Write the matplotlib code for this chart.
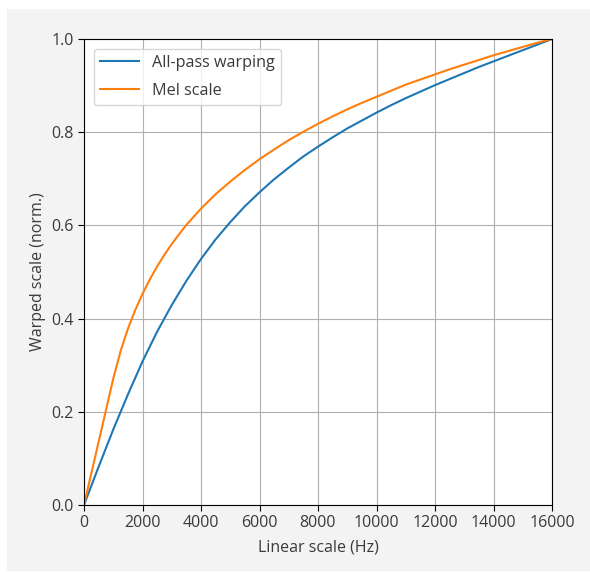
import matplotlib
matplotlib.use("Agg")
import matplotlib.pyplot as plt
from matplotlib.patches import Rectangle

# frequency grid (Hz) and the two normalised warped scales
freq_ap = [0, 500, 1000, 1500, 2000, 2500, 3000, 3500, 4000, 4500, 5000,
           5500, 6000, 6500, 7000, 7500, 8000, 8500, 9000, 9500, 10000,
           10500, 11000, 11500, 12000, 12500, 13000, 13500, 14000, 14500,
           15000, 15500, 16000]
allpass = [0.000, 0.082, 0.162, 0.237, 0.308, 0.372, 0.429, 0.481, 0.528,
           0.570, 0.607, 0.641, 0.671, 0.699, 0.724, 0.748, 0.769, 0.789,
           0.808, 0.825, 0.842, 0.858, 0.873, 0.887, 0.901, 0.914, 0.927,
           0.940, 0.952, 0.964, 0.976, 0.988, 1.000]

freq_mel = [0, 1000, 1250, 1500, 1750, 2000, 2250, 2500, 2750, 3000, 3250,
            3500, 4000, 4500, 5000, 5500, 6000, 6500, 7000, 7500, 8000,
            8500, 9000, 9500, 10000, 10500, 11000, 11500, 12000, 12500,
            13000, 13500, 14000, 14500, 15000, 15500, 16000]
mel = [0.000, 0.271, 0.330, 0.378, 0.418, 0.453, 0.484, 0.512, 0.537,
       0.560, 0.581, 0.601, 0.636, 0.667, 0.694, 0.719, 0.742, 0.763,
       0.783, 0.801, 0.818, 0.834, 0.849, 0.863, 0.876, 0.889, 0.902,
       0.913, 0.924, 0.935, 0.945, 0.955, 0.965, 0.974, 0.983, 0.992, 1.000]

xticks = list(range(0, 16001, 2000))
yticks = [0.0, 0.2, 0.4, 0.6, 0.8, 1.0]

txt = "#3a3a3a"
plt.rcParams['font.family'] = ['Open Sans', 'DejaVu Sans']
plt.rcParams['font.size'] = 11.5

fig = plt.figure(figsize=(5.9, 5.72), dpi=100)
fig.patch.set_facecolor("white")
fig.patches.append(Rectangle((7 / 590, 1 / 572), 1 - 7 / 590, 562 / 572,
                             transform=fig.transFigure, facecolor="#f3f3f3",
                             edgecolor="none", zorder=-10))

ax = fig.add_axes([84 / 590, 67 / 572, 468 / 590, 466 / 572])
ax.set_facecolor("white")
ax.plot(freq_ap, allpass, color="#1f77b4", lw=1.5, label="All-pass warping")
ax.plot(freq_mel, mel, color="#ff7f0e", lw=1.5, label="Mel scale")

ax.set_xlim(0, 16000)
ax.set_ylim(0, 1)
ax.set_xticks(xticks)
ax.set_yticks(yticks)
ax.grid(True, color="#b0b0b0", lw=0.8)
ax.tick_params(labelcolor=txt, length=4)
ax.set_xlabel("Linear scale (Hz)", color=txt, labelpad=6)
ax.set_ylabel("Warped scale (norm.)", color=txt, labelpad=4)
leg = ax.legend(loc="upper left", fontsize=11.6, handlelength=2.4,
                labelspacing=0.72, borderaxespad=0.6)
for t in leg.get_texts():
    t.set_color(txt)

fig.savefig("out.png", dpi=100)
